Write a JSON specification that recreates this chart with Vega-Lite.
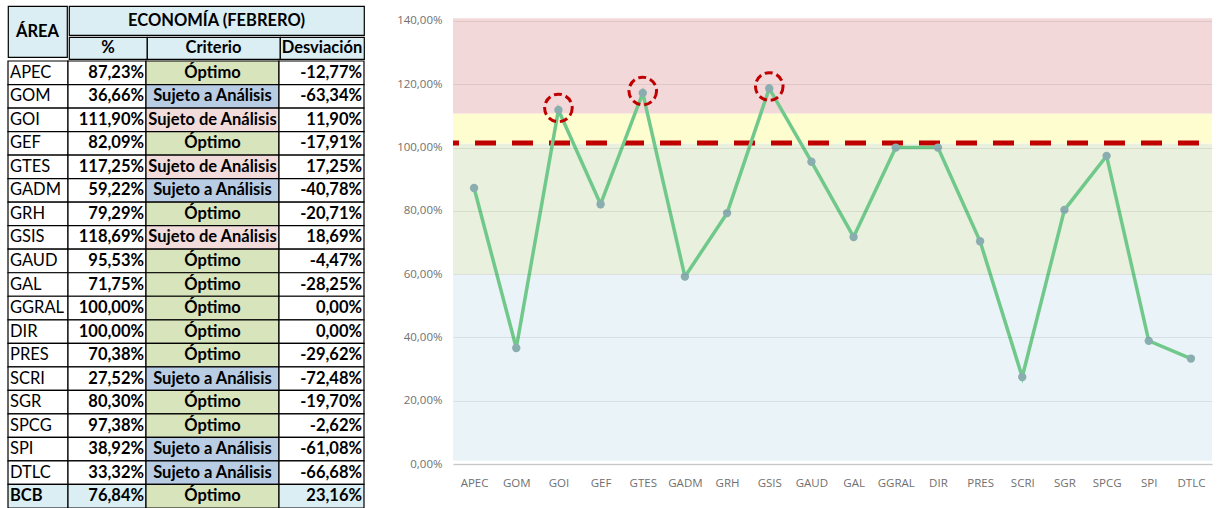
{
  "$schema": "https://vega.github.io/schema/vega-lite/v6.json",
  "padding": {"left": 7, "top": 5, "right": 0, "bottom": 0},
  "background": "#ffffff",
  "datasets": {
    "rows": [
      {"area": "APEC", "pct": 0.8723, "crit": "Óptimo", "dev": -0.1277},
      {"area": "GOM", "pct": 0.3666, "crit": "Sujeto a Análisis", "dev": -0.6334},
      {"area": "GOI", "pct": 1.119, "crit": "Sujeto de Análisis", "dev": 0.119},
      {"area": "GEF", "pct": 0.8209, "crit": "Óptimo", "dev": -0.1791},
      {"area": "GTES", "pct": 1.1725, "crit": "Sujeto de Análisis", "dev": 0.1725},
      {"area": "GADM", "pct": 0.5922, "crit": "Sujeto a Análisis", "dev": -0.4078},
      {"area": "GRH", "pct": 0.7929, "crit": "Óptimo", "dev": -0.2071},
      {"area": "GSIS", "pct": 1.1869, "crit": "Sujeto de Análisis", "dev": 0.1869},
      {"area": "GAUD", "pct": 0.9553, "crit": "Óptimo", "dev": -0.0447},
      {"area": "GAL", "pct": 0.7175, "crit": "Óptimo", "dev": -0.2825},
      {"area": "GGRAL", "pct": 1.0, "crit": "Óptimo", "dev": 0.0},
      {"area": "DIR", "pct": 1.0, "crit": "Óptimo", "dev": 0.0},
      {"area": "PRES", "pct": 0.7038, "crit": "Óptimo", "dev": -0.2962},
      {"area": "SCRI", "pct": 0.2752, "crit": "Sujeto a Análisis", "dev": -0.7248},
      {"area": "SGR", "pct": 0.803, "crit": "Óptimo", "dev": -0.197},
      {"area": "SPCG", "pct": 0.9738, "crit": "Óptimo", "dev": -0.0262},
      {"area": "SPI", "pct": 0.3892, "crit": "Sujeto a Análisis", "dev": -0.6108},
      {"area": "DTLC", "pct": 0.3332, "crit": "Sujeto a Análisis", "dev": -0.6668},
      {"area": "BCB", "pct": 0.7684, "crit": "Óptimo", "dev": 0.2316}
    ],
    "zones": [
      {"zone": "bajo", "lo": 0.0104, "hi": 0.6},
      {"zone": "optimo", "lo": 0.6, "hi": 1.0125},
      {"zone": "alerta", "lo": 1.0125, "hi": 1.1073},
      {"zone": "alto", "lo": 1.1073, "hi": 1.4085}
    ]
  },
  "config": {
    "locale": {"number": {"decimal": ",", "thousands": ".", "grouping": [3], "currency": ["", " €"], "minus": "-"}},
    "text": {"font": "Lato", "fontSize": 16.5, "fontWeight": "bold", "color": "#000000"},
    "view": {"stroke": null}
  },
  "resolve": {"scale": {"fill": "independent"}},
  "spacing": 31,
  "hconcat": [
    {
      "spacing": 0,
      "vconcat": [
        {
          "spacing": 0,
          "hconcat": [
            {
              "width": 59, "height": 51,
              "view": {"fill": "#daeef3", "stroke": "#000000", "strokeWidth": 1.2},
              "data": {"values": [{"t": "ÁREA"}]},
              "mark": {"type": "text"},
              "encoding": {
                "x": {"field": "t", "type": "nominal", "axis": null},
                "y": {"field": "t", "type": "nominal", "axis": null},
                "text": {"field": "t"}
              }
            },
            {
              "spacing": 0,
              "vconcat": [
                {
                  "width": 295, "height": 29,
                  "view": {"fill": "#daeef3", "stroke": "#000000", "strokeWidth": 1.2},
                  "data": {"values": [{"t": "ECONOMÍA (FEBRERO)"}]},
                  "mark": {"type": "text"},
                  "encoding": {
                    "x": {"field": "t", "type": "nominal", "axis": null},
                    "y": {"field": "t", "type": "nominal", "axis": null},
                    "text": {"field": "t"}
                  }
                },
                {
                  "bounds": "flush",
                  "spacing": 0,
                  "hconcat": [
                    {
                      "width": 78, "height": 22,
                      "view": {"fill": "#daeef3", "stroke": "#000000", "strokeWidth": 1.2},
                      "data": {"values": [{"t": "%"}]},
                      "mark": {"type": "text"},
                      "encoding": {
                        "x": {"field": "t", "type": "nominal", "axis": null},
                        "y": {"field": "t", "type": "nominal", "axis": null},
                        "text": {"field": "t"}
                      }
                    },
                    {
                      "width": 133, "height": 22,
                      "view": {"fill": "#daeef3", "stroke": "#000000", "strokeWidth": 1.2},
                      "data": {"values": [{"t": "Criterio"}]},
                      "mark": {"type": "text"},
                      "encoding": {
                        "x": {"field": "t", "type": "nominal", "axis": null},
                        "y": {"field": "t", "type": "nominal", "axis": null},
                        "text": {"field": "t"}
                      }
                    },
                    {
                      "width": 84, "height": 22,
                      "view": {"fill": "#daeef3", "stroke": "#000000", "strokeWidth": 1.2},
                      "data": {"values": [{"t": "Desviación"}]},
                      "mark": {"type": "text"},
                      "encoding": {
                        "x": {"field": "t", "type": "nominal", "axis": null},
                        "y": {"field": "t", "type": "nominal", "axis": null},
                        "text": {"field": "t"}
                      }
                    }
                  ]
                }
              ]
            }
          ]
        },
        {
          "bounds": "flush",
          "spacing": 0,
          "data": {"name": "rows"},
          "hconcat": [
            {
              "width": 60, "height": 447,
              "encoding": {
                "y": {"field": "area", "type": "nominal", "sort": null, "axis": null, "scale": {"type": "band", "paddingInner": 0, "paddingOuter": 0}}
              },
              "layer": [
                {
                  "mark": {"type": "rect", "stroke": "#000000", "strokeWidth": 1.2},
                  "encoding": {"fill": {"condition": {"test": "datum.area === 'BCB'", "value": "#daeef3"}, "value": "#ffffff"}}
                },
                {
                  "transform": [{"filter": "datum.area !== 'BCB'"}],
                  "mark": {"type": "text", "align": "left", "dx": 2, "fontWeight": "normal"},
                  "encoding": {
                    "x": {"datum": 0, "type": "quantitative", "scale": {"domain": [0, 1]}, "axis": null},
                    "text": {"field": "area"}
                  }
                },
                {
                  "transform": [{"filter": "datum.area === 'BCB'"}],
                  "mark": {"type": "text", "align": "left", "dx": 2, "fontWeight": "bold"},
                  "encoding": {
                    "x": {"datum": 0, "type": "quantitative", "scale": {"domain": [0, 1]}, "axis": null},
                    "text": {"field": "area"}
                  }
                }
              ]
            },
            {
              "width": 78, "height": 447,
              "encoding": {
                "y": {"field": "area", "type": "nominal", "sort": null, "axis": null, "scale": {"type": "band", "paddingInner": 0, "paddingOuter": 0}}
              },
              "layer": [
                {
                  "mark": {"type": "rect", "stroke": "#000000", "strokeWidth": 1.2},
                  "encoding": {"fill": {"condition": {"test": "datum.area === 'BCB'", "value": "#daeef3"}, "value": "#ffffff"}}
                },
                {
                  "mark": {"type": "text", "align": "right", "dx": -2},
                  "encoding": {
                    "x": {"datum": 1, "type": "quantitative", "scale": {"domain": [0, 1]}, "axis": null},
                    "text": {"field": "pct", "type": "quantitative", "format": ".2%"}
                  }
                }
              ]
            },
            {
              "width": 133, "height": 447,
              "encoding": {
                "y": {"field": "area", "type": "nominal", "sort": null, "axis": null, "scale": {"type": "band", "paddingInner": 0, "paddingOuter": 0}}
              },
              "layer": [
                {
                  "mark": {"type": "rect", "stroke": "#000000", "strokeWidth": 1.2},
                  "encoding": {"fill": {"field": "crit", "type": "nominal", "legend": null, "scale": {"domain": ["Óptimo", "Sujeto a Análisis", "Sujeto de Análisis"], "range": ["#d8e4bc", "#b8cce4", "#f2dcdb"]}}}
                },
                {
                  "mark": {"type": "text"},
                  "encoding": {"text": {"field": "crit"}}
                }
              ]
            },
            {
              "width": 85, "height": 447,
              "encoding": {
                "y": {"field": "area", "type": "nominal", "sort": null, "axis": null, "scale": {"type": "band", "paddingInner": 0, "paddingOuter": 0}}
              },
              "layer": [
                {
                  "mark": {"type": "rect", "stroke": "#000000", "strokeWidth": 1.2},
                  "encoding": {"fill": {"condition": {"test": "datum.area === 'BCB'", "value": "#daeef3"}, "value": "#ffffff"}}
                },
                {
                  "mark": {"type": "text", "align": "right", "dx": -2},
                  "encoding": {
                    "x": {"datum": 1, "type": "quantitative", "scale": {"domain": [0, 1]}, "axis": null},
                    "text": {"field": "dev", "type": "quantitative", "format": ".2%"}
                  }
                }
              ]
            }
          ]
        }
      ]
    },
    {
      "width": 759,
      "height": 458,
      "view": {"stroke": null},
      "encoding": {
        "y": {
          "type": "quantitative",
          "scale": {"domain": [0, 1.4474], "nice": false, "zero": true},
          "axis": {
            "values": [0, 0.2, 0.4, 0.6, 0.8, 1.0, 1.2, 1.4],
            "format": ".2%",
            "title": null,
            "domain": false,
            "ticks": false,
            "labelPadding": 11,
            "labelFont": "Open Sans",
            "labelFontSize": 11.5,
            "labelColor": "#707070",
            "grid": true,
            "gridColor": "#000000",
            "gridOpacity": 0.08,
            "zindex": 1
          }
        }
      },
      "layer": [
        {
          "data": {"name": "zones"},
          "mark": {"type": "rect"},
          "encoding": {
            "y": {"field": "lo", "type": "quantitative"},
            "y2": {"field": "hi"},
            "fill": {"field": "zone", "type": "nominal", "legend": null, "scale": {"domain": ["bajo", "optimo", "alerta", "alto"], "range": ["#eaf3f7", "#e9f0dd", "#fefdd0", "#f2d8d9"]}}
          }
        },
        {
          "data": {"values": [{"lim": 1.0147}]},
          "mark": {"type": "rule", "color": "#c00000", "strokeWidth": 5, "strokeDash": [21, 16], "strokeDashOffset": 24},
          "encoding": {"y": {"field": "lim", "type": "quantitative"}}
        },
        {
          "data": {"name": "rows"},
          "transform": [{"filter": "datum.area !== 'BCB'"}],
          "encoding": {
            "x": {
              "field": "area", "type": "nominal", "sort": null,
              "scale": {"type": "point", "padding": 0.5},
              "axis": {
                "title": null,
                "labelAngle": 0,
                "ticks": false,
                "domain": true,
                "domainColor": "#d9d9d9",
                "domainWidth": 1.5,
                "labelPadding": 13,
                "labelFont": "Open Sans",
                "labelFontSize": 11.5,
                "labelColor": "#707070",
                "grid": false
              }
            },
            "y": {"field": "pct", "type": "quantitative"}
          },
          "layer": [
            {"mark": {"type": "line", "color": "#70c98b", "strokeWidth": 3.5}},
            {"mark": {"type": "point", "filled": true, "color": "#8aaeb0", "size": 70, "opacity": 1}},
            {
              "transform": [{"filter": "datum.pct > 1.1"}],
              "mark": {"type": "point", "shape": "circle", "filled": false, "color": "#c00000", "size": 760, "strokeWidth": 3, "strokeDash": [8, 4], "opacity": 1, "yOffset": -2}
            }
          ]
        }
      ]
    }
  ]
}
